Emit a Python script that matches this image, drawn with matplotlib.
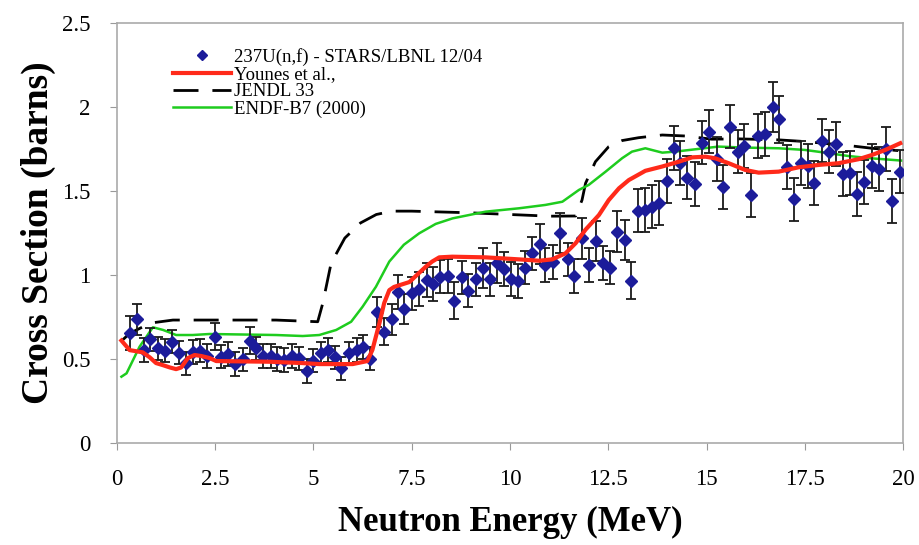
import matplotlib
matplotlib.use("Agg")
from matplotlib import pyplot as plt
from matplotlib.lines import Line2D

# measured points 237U(n,f) - STARS/LBNL
e_data = [0.33, 0.52, 0.69, 0.85, 1.05, 1.22, 1.40, 1.58, 1.75, 1.94,
          2.11, 2.29, 2.49, 2.66, 2.83, 3.01, 3.21, 3.38, 3.55, 3.73,
          3.91, 4.08, 4.26, 4.45, 4.63, 4.83, 5.00, 5.19, 5.36, 5.55,
          5.70, 5.90, 6.10, 6.25, 6.44, 6.61, 6.80, 6.99, 7.14, 7.31,
          7.52, 7.69, 7.88, 8.05, 8.21, 8.41, 8.58, 8.77, 8.94, 9.13,
          9.30, 9.48, 9.67, 9.85, 10.02, 10.21, 10.38, 10.57, 10.75, 10.90,
          11.10, 11.28, 11.47, 11.62, 11.84, 12.02, 12.19, 12.37, 12.55, 12.72,
          12.91, 13.08, 13.26, 13.44, 13.61, 13.78, 13.98, 14.16, 14.33, 14.50,
          14.70, 14.88, 15.05, 15.25, 15.41, 15.60, 15.79, 15.96, 16.13, 16.30,
          16.49, 16.68, 16.84, 17.04, 17.21, 17.39, 17.57, 17.74, 17.93, 18.11,
          18.28, 18.46, 18.65, 18.83, 19.01, 19.20, 19.37, 19.55, 19.72, 19.92]
xs_data = [0.655, 0.736, 0.553, 0.617, 0.564, 0.550, 0.603, 0.538, 0.474, 0.543,
           0.550, 0.518, 0.633, 0.514, 0.530, 0.470, 0.498, 0.609, 0.564, 0.518,
           0.518, 0.500, 0.494, 0.518, 0.504, 0.430, 0.490, 0.534, 0.554, 0.510,
           0.445, 0.534, 0.554, 0.573, 0.502, 0.782, 0.663, 0.736, 0.900, 0.796,
           0.891, 0.915, 0.970, 0.946, 0.990, 0.994, 0.847, 0.986, 0.907, 0.974,
           1.040, 0.974, 1.070, 1.034, 0.976, 0.966, 1.044, 1.129, 1.183, 1.060,
           1.076, 1.248, 1.093, 0.994, 1.218, 1.060, 1.204, 1.070, 1.044, 1.258,
           1.208, 0.966, 1.383, 1.387, 1.407, 1.427, 1.560, 1.754, 1.665, 1.580,
           1.542, 1.788, 1.853, 1.689, 1.522, 1.883, 1.734, 1.768, 1.476, 1.827,
           1.837, 1.998, 1.927, 1.641, 1.450, 1.665, 1.649, 1.546, 1.800, 1.734,
           1.780, 1.600, 1.605, 1.482, 1.555, 1.649, 1.629, 1.748, 1.442, 1.615]
err_data = [0.10, 0.09, 0.07, 0.07, 0.07, 0.07, 0.07, 0.07, 0.07, 0.07,
            0.07, 0.07, 0.08, 0.07, 0.07, 0.07, 0.07, 0.08, 0.07, 0.07,
            0.07, 0.07, 0.07, 0.07, 0.07, 0.07, 0.07, 0.07, 0.07, 0.07,
            0.07, 0.07, 0.07, 0.07, 0.07, 0.09, 0.08, 0.09, 0.10, 0.09,
            0.10, 0.10, 0.10, 0.10, 0.10, 0.10, 0.11, 0.10, 0.10, 0.10,
            0.12, 0.10, 0.12, 0.10, 0.10, 0.10, 0.10, 0.10, 0.12, 0.10,
            0.10, 0.12, 0.10, 0.10, 0.12, 0.10, 0.12, 0.10, 0.10, 0.12,
            0.12, 0.11, 0.13, 0.13, 0.13, 0.13, 0.13, 0.13, 0.13, 0.13,
            0.13, 0.13, 0.13, 0.13, 0.13, 0.13, 0.13, 0.13, 0.13, 0.13,
            0.13, 0.15, 0.14, 0.13, 0.13, 0.13, 0.13, 0.13, 0.13, 0.13,
            0.13, 0.13, 0.13, 0.13, 0.13, 0.13, 0.13, 0.13, 0.13, 0.13]

# Younes et al.
e_younes = [0.12, 0.33, 0.66, 0.84, 1.00, 1.17, 1.35, 1.51, 1.64, 1.81,
            1.98, 2.15, 2.36, 2.53, 3.88, 4.72, 5.15, 6.00, 6.37, 6.50,
            6.68, 6.80, 6.93, 7.05, 7.44, 7.86, 8.02, 8.20, 8.53, 9.38,
            10.23, 10.74, 11.07, 11.41, 11.67, 11.92, 12.26, 12.51, 12.77, 13.02,
            13.44, 13.86, 14.29, 14.63, 14.97, 15.22, 15.56, 15.98, 16.32, 16.83,
            17.34, 17.85, 18.35, 18.86, 19.20, 19.54, 19.92]
xs_younes = [0.61, 0.553, 0.54, 0.51, 0.476, 0.464, 0.45, 0.44, 0.45, 0.506,
             0.524, 0.518, 0.506, 0.488, 0.484, 0.476, 0.47, 0.47, 0.488, 0.554,
             0.714, 0.833, 0.91, 0.929, 0.958, 1.05, 1.08, 1.105, 1.109, 1.105,
             1.093, 1.085, 1.093, 1.129, 1.19, 1.27, 1.357, 1.446, 1.516, 1.565,
             1.62, 1.645, 1.674, 1.70, 1.704, 1.694, 1.665, 1.625, 1.609, 1.615,
             1.641, 1.655, 1.665, 1.689, 1.714, 1.744, 1.784]

# JENDL 33
e_jendl = [0.12, 0.33, 0.67, 0.92, 1.43, 4.05, 5.11, 5.24, 5.45, 5.80,
           6.20, 6.60, 7.00, 7.50, 9.00, 10.00, 11.00, 11.67, 11.83, 11.92,
           12.17, 12.51, 12.85, 13.27, 13.87, 14.46, 15.13, 15.81, 16.83, 17.50,
           18.69, 19.20, 19.87]
xs_jendl = [0.607, 0.653, 0.692, 0.716, 0.732, 0.732, 0.722, 0.833, 1.07, 1.22,
            1.31, 1.36, 1.38, 1.38, 1.37, 1.36, 1.35, 1.351, 1.446, 1.546,
            1.674, 1.764, 1.80, 1.817, 1.833, 1.827, 1.808, 1.81, 1.804, 1.794,
            1.768, 1.754, 1.74]

# ENDF-B7 (2000)
e_endf = [0.12, 0.25, 0.58, 0.92, 1.18, 1.51, 1.93, 2.36, 4.05, 4.73,
          5.15, 5.58, 5.96, 6.25, 6.59, 6.93, 7.30, 7.69, 8.11, 8.54,
          8.96, 9.38, 10.23, 10.90, 11.33, 11.75, 12.00, 12.43, 12.85, 13.10,
          13.44, 13.87, 14.20, 14.71, 15.30, 15.98, 16.83, 17.50, 18.01, 18.60,
          19.20, 20.00]
xs_endf = [0.395, 0.415, 0.573, 0.689, 0.673, 0.643, 0.643, 0.649, 0.643, 0.637,
           0.643, 0.673, 0.722, 0.811, 0.93, 1.08, 1.18, 1.248, 1.304, 1.337,
           1.357, 1.377, 1.397, 1.417, 1.436, 1.506, 1.536, 1.615, 1.695, 1.734,
           1.754, 1.728, 1.734, 1.748, 1.764, 1.758, 1.754, 1.744, 1.728, 1.708,
           1.694, 1.68]

x_ticks = [0, 2.5, 5, 7.5, 10, 12.5, 15, 17.5, 20]
x_ticklabels = ["0", "2.5", "5", "7.5", "10", "12.5", "15", "17.5", "20"]
y_ticks = [0, 0.5, 1, 1.5, 2, 2.5]
y_ticklabels = ["0", "0.5", "1", "1.5", "2", "2.5"]

plt.rcParams["font.family"] = ["Liberation Serif", "DejaVu Serif"]

fig = plt.figure(figsize=(9.19, 5.45), dpi=100)
ax = fig.add_axes([0.127, 0.187, 0.856, 0.771])

# data points with error bars
ax.errorbar(e_data, xs_data, yerr=err_data, fmt="D", color="#1c1c9a",
            markersize=6, ecolor="#1a1a1a", elinewidth=1.3, capsize=3.5,
            capthick=1.3, zorder=3)

# evaluations
ax.plot(e_younes, xs_younes, color="#ff2a1a", lw=3.0, zorder=4)
ax.plot(e_jendl, xs_jendl, color="black", lw=2.0, dashes=(9, 5), zorder=2)
ax.plot(e_endf, xs_endf, color="#1ecc1e", lw=1.8, zorder=2)

ax.set_xlim(0, 20)
ax.set_ylim(0, 2.5)
ax.set_xticks(x_ticks)
ax.set_xticklabels(x_ticklabels)
ax.set_yticks(y_ticks)
ax.set_yticklabels(y_ticklabels)
ax.tick_params(axis="both", direction="out", length=5, color="#999999",
               labelsize=16.5)
ax.tick_params(axis="x", pad=14)
ax.tick_params(axis="y", pad=14)
for s in ax.spines.values():
    s.set_color("#aaaaaa")
    s.set_linewidth(1.2)

ax.set_xlabel("Neutron Energy (MeV)", fontsize=25, fontweight="bold", labelpad=11)
ax.set_ylabel("Cross Section (barns)", fontsize=27, fontweight="bold", labelpad=4)

handles = [
    Line2D([], [], ls="none", marker="D", color="#1c1c9a", markersize=5),
    Line2D([], [], color="#ff2a1a", lw=3.0),
    Line2D([], [], color="black", lw=2.0, dashes=(9, 5)),
    Line2D([], [], color="#1ecc1e", lw=1.8),
]
labels = ["237U(n,f) - STARS/LBNL 12/04", "Younes et al.,", "JENDL 33", "ENDF-B7 (2000)"]
ax.legend(handles, labels, loc="upper left", bbox_to_anchor=(0.072, 0.94),
          frameon=False, fontsize=13.5, handlelength=3.1, handletextpad=0.15,
          labelspacing=0.0, borderaxespad=0, borderpad=0)

fig.savefig("out.png", dpi=100)
